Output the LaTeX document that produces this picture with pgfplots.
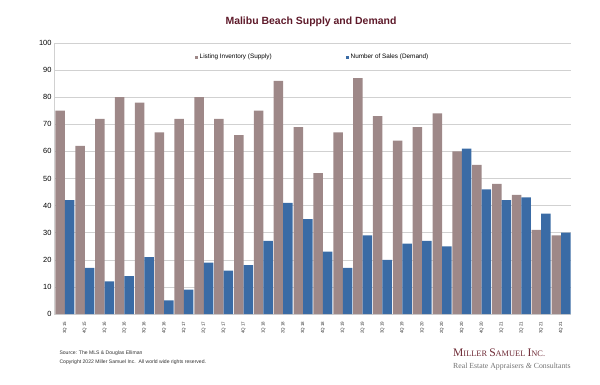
\documentclass[border=0pt]{standalone}
\usepackage{pgfplots}
\pgfplotsset{compat=1.18}
\usepackage{fontspec}
\setmainfont{Liberation Sans}
\newfontfamily\serif{Liberation Serif}
\definecolor{supply}{HTML}{9E8888}
\definecolor{demand}{HTML}{3A6BA5}
\definecolor{maroon}{HTML}{5E1A2A}
\definecolor{logo}{HTML}{6E2A35}
\begin{document}
\begin{tikzpicture}[x=1bp,y=1bp]
\path (0,0) rectangle (600,384);
\begin{axis}[
  at={(54bp,70bp)}, anchor=south west,
  scale only axis, width=517bp, height=271bp,
  ybar, bar width=9.5bp,
  xmin=-0.55, xmax=25.5, ymin=0, ymax=100,
  ytick={0,10,...,100},
  xtick={0,...,25},
  xticklabels={3Q 15,4Q 15,1Q 16,2Q 16,3Q 16,4Q 16,1Q 17,2Q 17,3Q 17,4Q 17,1Q 18,2Q 18,3Q 18,4Q 18,1Q 19,2Q 19,3Q 19,4Q 19,1Q 20,2Q 20,3Q 20,4Q 20,1Q 21,2Q 21,3Q 21,4Q 21},
  x tick label style={rotate=90, anchor=east, font=\fontsize{4.5}{5}\selectfont, text=black!80},
  y tick label style={font=\fontsize{7.5}{8}\selectfont},
  /pgf/number format/assume math mode=true,
  ymajorgrids, grid style={draw=black!18, line width=0.6pt},
  axis x line*=bottom,
  axis y line*=left,
  x axis line style={draw=none},
  y axis line style={draw=black!18, line width=0.6pt, -},
  ytick style={draw=black!18, line width=0.6pt},
  tickwidth=3bp, major tick length=3bp,
  xtick style={draw=none},
  xticklabel shift=1bp,
  yticklabel shift=-1bp,
  legend style={at={(0.5,0.975)}, anchor=north, draw=none, fill=none,
    legend columns=2, font=\fontsize{6.4}{7}\selectfont,
    /tikz/every even column/.append style={column sep=72bp}},
  legend image code/.code={\fill[#1] (0bp,-1.5bp) rectangle (3bp,1.5bp);},
]
\addplot[fill=supply, draw=none, bar shift=-4.75bp] coordinates {
(0,75)(1,62)(2,72)(3,80)(4,78)(5,67)(6,72)(7,80)(8,72)(9,66)(10,75)(11,86)(12,69)(13,52)(14,67)(15,87)(16,73)(17,64)(18,69)(19,74)(20,60)(21,55)(22,48)(23,44)(24,31)(25,29)};
\addplot[fill=demand, draw=none, bar shift=4.75bp] coordinates {
(0,42)(1,17)(2,12)(3,14)(4,21)(5,5)(6,9)(7,19)(8,16)(9,18)(10,27)(11,41)(12,35)(13,23)(14,17)(15,29)(16,20)(17,26)(18,27)(19,25)(20,61)(21,46)(22,42)(23,43)(24,37)(25,30)};
\legend{Listing Inventory (Supply),Number of Sales (Demand)}
\end{axis}
\node[font=\bfseries\fontsize{10.5}{12}\selectfont, text=maroon] at (311,362) {Malibu Beach Supply and Demand};
\node[anchor=west, font=\fontsize{5.1}{6}\selectfont, text=black!80] at (56,31) {Source: The MLS \& Douglas Elliman};
\node[anchor=west, font=\fontsize{5.1}{6}\selectfont, text=black!80] at (56,22) {Copyright 2022 Miller Samuel Inc.\ \ All world wide rights reserved.};
\node[anchor=base west, text=logo, inner sep=0] at (453,28) {\serif\fontsize{11.6}{12}\selectfont M\fontsize{8.4}{9}\selectfont ILLER \fontsize{11.6}{12}\selectfont S\fontsize{8.4}{9}\selectfont AMUEL \fontsize{11.6}{12}\selectfont I\fontsize{8.4}{9}\selectfont NC.};
\node[anchor=base west, text=black!55, inner sep=0] at (453,16) {\serif\fontsize{7.8}{8}\selectfont Real Estate Appraisers \textit{\&} Consultants};
\end{tikzpicture}
\end{document}
